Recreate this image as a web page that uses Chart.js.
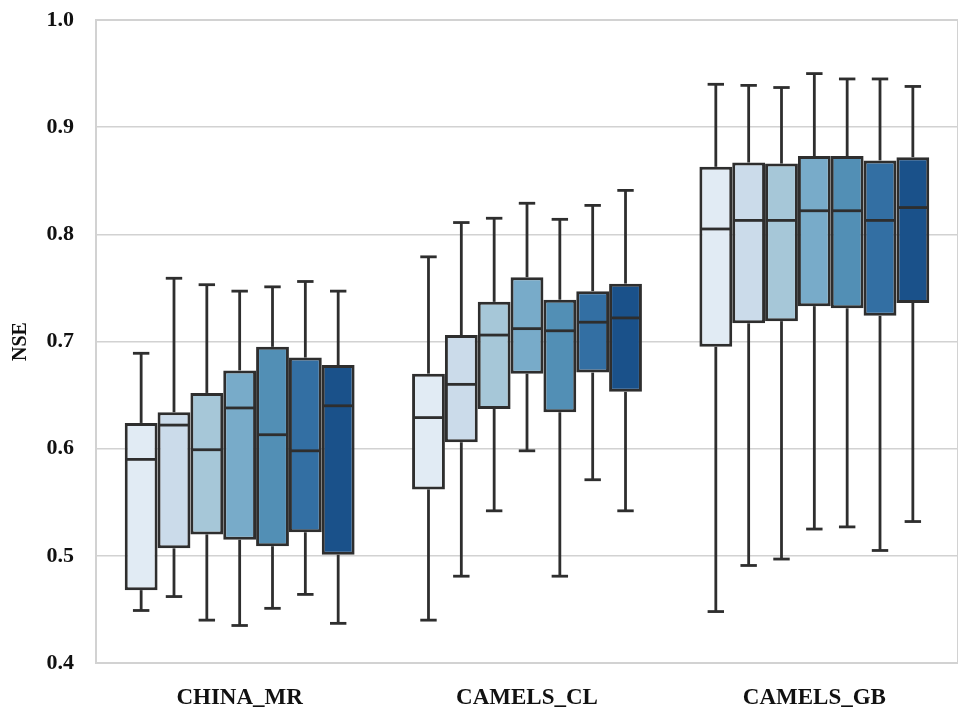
<!DOCTYPE html>
<html>
<head>
<meta charset="utf-8">
<script src="https://cdn.jsdelivr.net/npm/chart.js@4.4.1/dist/chart.umd.min.js"></script>
<style>
  html, body { margin: 0; padding: 0; background: #fff; overflow: hidden; }
  #wrap { width: 958px; height: 708px; }
</style>
</head>
<body>
<div id="wrap"><canvas id="boxChart"></canvas></div>
<script>
// --- datos ---
const categories = ['CHINA_MR', 'CAMELS_CL', 'CAMELS_GB'];

// cada serie: [min, q1, mediana, q3, max] por categoria
const series1 = [[0.449, 0.468, 0.590, 0.624, 0.689], [0.440, 0.562, 0.629, 0.670, 0.779], [0.448, 0.695, 0.805, 0.863, 0.940]];
const series2 = [[0.462, 0.507, 0.622, 0.634, 0.759], [0.481, 0.606, 0.660, 0.706, 0.811], [0.491, 0.717, 0.813, 0.867, 0.939]];
const series3 = [[0.440, 0.520, 0.599, 0.652, 0.753], [0.542, 0.637, 0.706, 0.737, 0.815], [0.497, 0.719, 0.813, 0.866, 0.937]];
const series4 = [[0.435, 0.515, 0.638, 0.673, 0.747], [0.598, 0.670, 0.712, 0.760, 0.829], [0.525, 0.733, 0.822, 0.873, 0.950]];
const series5 = [[0.451, 0.509, 0.613, 0.695, 0.751], [0.481, 0.634, 0.710, 0.739, 0.814], [0.527, 0.731, 0.822, 0.873, 0.945]];
const series6 = [[0.464, 0.522, 0.598, 0.685, 0.756], [0.571, 0.671, 0.718, 0.747, 0.827], [0.505, 0.724, 0.813, 0.869, 0.945]];
const series7 = [[0.437, 0.501, 0.640, 0.678, 0.747], [0.542, 0.653, 0.722, 0.754, 0.841], [0.532, 0.736, 0.825, 0.872, 0.938]];
const allSeries = [series1, series2, series3, series4, series5, series6, series7];

const yMin = 0.4;
const yMax = 1.0;
const yStep = 0.1;

// paleta Blues desaturada (estilo seaborn)
const COLORS = ['#e1ebf4', '#cbdbea', '#a6c7d8', '#78abc9', '#528fb5', '#336fa3', '#1a518a'];
const LINE = '#2e2e2e';
const GRID = '#d2d2d2';
const FONT = "'Liberation Serif', 'Times New Roman', serif";

// marco + whiskers + medianas, dibujados con las escalas del grafico
const boxPlugin = {
    id: 'boxWhiskers',
    beforeDatasetsDraw(chart) {
        const { ctx, chartArea: a } = chart;
        ctx.save();
        ctx.strokeStyle = GRID;
        ctx.lineWidth = 2;
        ctx.strokeRect(a.left, a.top, a.right - a.left, a.bottom - a.top);
        ctx.restore();
    },
    afterDatasetsDraw(chart) {
        const ctx = chart.ctx;
        const y = chart.scales.y;
        ctx.save();
        ctx.strokeStyle = LINE;
        ctx.lineWidth = 2.8;
        const line = (x1, y1, x2, y2) => {
            ctx.beginPath();
            ctx.moveTo(x1, y1);
            ctx.lineTo(x2, y2);
            ctx.stroke();
        };
        allSeries.forEach((stats, di) => {
            const meta = chart.getDatasetMeta(di);
            meta.data.forEach((bar, i) => {
                const [lo, q1, med, q3, hi] = stats[i];
                const x = bar.x;
                const half = bar.width / 2;
                const cap = bar.width / 4;
                const yLo = y.getPixelForValue(lo);
                const yHi = y.getPixelForValue(hi);
                line(x, y.getPixelForValue(q3), x, yHi);
                line(x - cap, yHi, x + cap, yHi);
                line(x, y.getPixelForValue(q1), x, yLo);
                line(x - cap, yLo, x + cap, yLo);
                const yMed = y.getPixelForValue(med);
                line(x - half + 1, yMed, x + half - 1, yMed);
            });
        });
        ctx.restore();
    }
};

const ctx = document.getElementById('boxChart');
new Chart(ctx, {
    type: 'bar',
    data: {
        labels: categories,
        datasets: allSeries.map((stats, i) => ({
            label: 'S' + (i + 1),
            data: stats.map(s => [s[1], s[3]]),
            backgroundColor: COLORS[i],
            borderColor: LINE,
            borderWidth: 3,
            borderSkipped: false,
            categoryPercentage: 0.8,
            barPercentage: 1.0
        }))
    },
    options: {
        responsive: true,
        maintainAspectRatio: false,
        animation: false,
        layout: { padding: { top: 20, right: 0, bottom: 0, left: 0 } },
        plugins: { legend: { display: false }, tooltip: { enabled: false } },
        scales: {
            x: {
                grid: { display: false },
                border: { display: false },
                ticks: { color: '#111', padding: 13, font: { family: FONT, size: 23, weight: 'bold' } },
                afterFit: (s) => { s.height = 45; }
            },
            y: {
                min: yMin,
                max: yMax,
                grid: { color: GRID, lineWidth: 1.5, drawTicks: false },
                border: { display: false },
                ticks: {
                    stepSize: yStep,
                    padding: 22,
                    color: '#111',
                    font: { family: FONT, size: 22, weight: 'bold' },
                    callback: (v) => v.toFixed(1)
                },
                title: {
                    display: true,
                    text: 'NSE',
                    color: '#111',
                    padding: { top: 9, bottom: 0 },
                    font: { family: FONT, size: 20, weight: 'bold' }
                },
                afterFit: (s) => {
                    s.width = 96;
                    s.paddingTop = 0;
                    s.paddingBottom = 0;
                }
            }
        }
    },
    plugins: [boxPlugin]
});
</script>
</body>
</html>
